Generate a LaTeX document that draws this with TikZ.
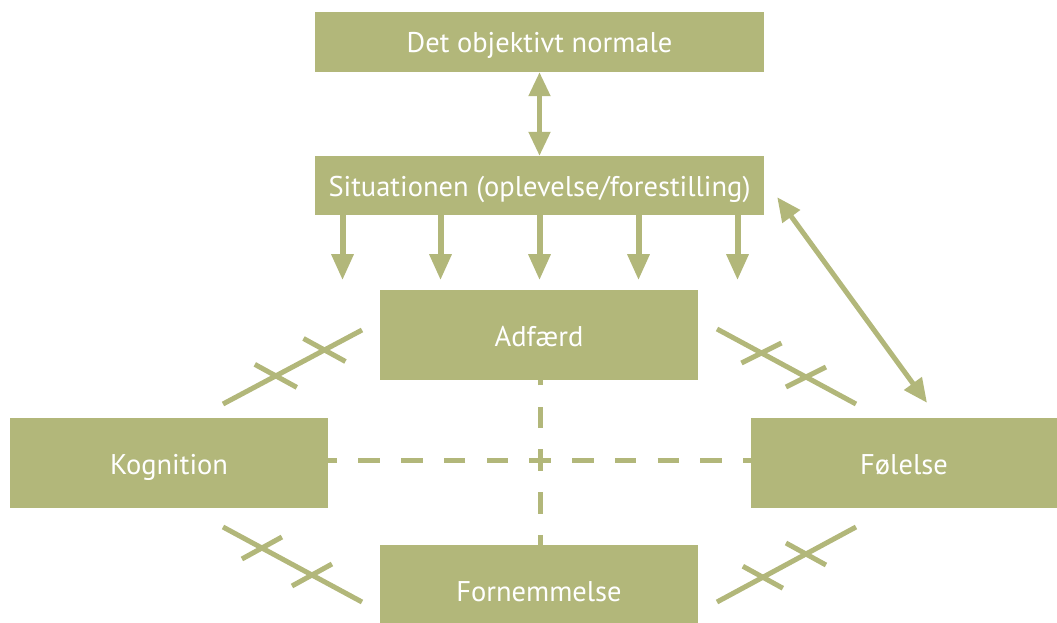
\documentclass[tikz,border=0pt]{standalone}
\usepackage{fontspec}
\setmainfont{PT Sans}
\usepackage{tikz}
\usetikzlibrary{arrows.meta, calc}
\definecolor{Olive}{HTML}{B2B77A}

\tikzset{
  box/.style={fill=Olive, text=white, inner sep=0pt, text height=22pt, text depth=0pt,
              font=\fontsize{28.5}{32}\selectfont},
  wide/.style={box, minimum width=449pt, minimum height=60pt},
  square/.style={box, minimum width=318pt, minimum height=90pt},
  downlink/.style={Olive, line width=6pt, -{Triangle[length=26pt,width=21pt]}},
  bothlink/.style={Olive, line width=5pt, {Triangle[length=24pt,width=21pt]}-{Triangle[length=24pt,width=21pt]}},
  dashlink/.style={Olive, line width=5pt, dash pattern=on 21.5pt off 21.25pt, dash phase=10.75pt},
  cutlink/.style={Olive, line width=5pt}
}

\begin{document}
\begin{tikzpicture}[x=1pt, y=-1pt]
    \clip (0,0) rectangle (1057,623);

    % Boxes
    \node[wide] (obj) at (539.5,42) {Det objektivt normale};
    \node[wide, minimum height=59pt] (sit) at (539.5,185.5) {Situationen (oplevelse/forestilling)};
    \node[square] (adf) at (539,335) {Adf\ae rd};
    \node[square] (kog) at (169,463) {Kognition};
    \node[square, minimum width=306pt] (fol) at (904,463) {F\o lelse};
    \node[square] (forn) at (539,590) {Fornemmelse};

    % Arrows from the situation
    \draw[bothlink] (obj.south) -- (sit.north);
    \foreach \dx in {-197,-99,0,99,198}
        \draw[downlink] ([xshift=\dx pt]sit.south) -- ++(0,65);
    \draw[bothlink] ([shift={(13,-18)}]sit.south east) -- ([shift={(23,-15)}]fol.north);

    % Dashed cross in the middle
    \coordinate (mid) at (540,460);
    \draw[dashlink] (mid) -- (mid -| kog.east);
    \draw[dashlink] (mid) -- (mid -| fol.west);
    \draw[dashlink] (mid) -- (mid |- adf.south);
    \draw[dashlink] (mid) -- (mid |- forn.north);

    % Broken links
    \coordinate (ul1) at (362,330); \coordinate (ul2) at (223,404);
    \coordinate (ur1) at (717,329); \coordinate (ur2) at (856,404);
    \coordinate (ll1) at (362,602); \coordinate (ll2) at (223,527);
    \coordinate (lr1) at (717,602); \coordinate (lr2) at (856,527);
    \foreach \p/\q/\s/\t/\hx/\hy in {ul1/ul2/0.27/0.62/21/11.5, ur1/ur2/0.32/0.64/20/-10,
                                     ll1/ll2/0.36/0.72/20/-11, lr1/lr2/0.33/0.64/20/11} {
        \draw[cutlink] (\p) -- (\q);
        \foreach \f in {\s,\t}
            \draw[cutlink] ($(\p)!\f!(\q)-(\hx,\hy)$) -- ($(\p)!\f!(\q)+(\hx,\hy)$);
    }
\end{tikzpicture}
\end{document}
